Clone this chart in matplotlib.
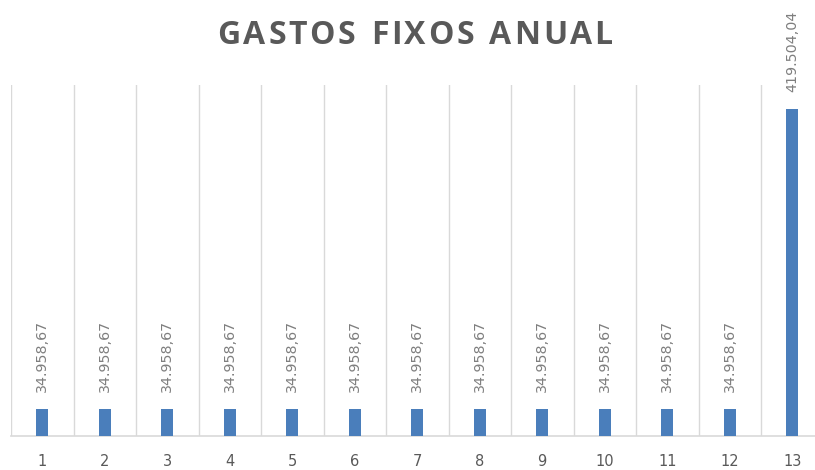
import matplotlib.pyplot as plt

meses = ["1", "2", "3", "4", "5", "6", "7", "8", "9", "10", "11", "12", "13"]
valores = [34958.67] * 12 + [419504.04]
rotulos = ["34.958,67"] * 12 + ["419.504,04"]

fig = plt.figure(figsize=(8.15, 4.7), dpi=100)
ax = fig.add_axes([11 / 815, 34 / 470, 812.5 / 815, 351 / 470])

x = list(range(1, len(meses) + 1))
ax.bar(x, valores, width=0.19, color="#4A7EBB", zorder=3)

for xi, v, r in zip(x, valores, rotulos):
    ax.annotate(r, (xi, v), xytext=(0, 12), textcoords="offset points",
                rotation=90, ha="center", va="bottom", fontsize=10.3,
                color="#7F7F7F", family="DejaVu Sans")

ax.set_xlim(0.5, 13.5)
ax.set_ylim(0, 450000)
ax.set_xticks(x)
ax.set_xticklabels(meses, fontsize=10.5, color="#595959")
ax.set_yticks([])
ax.tick_params(axis="x", length=0, pad=13)

# linhas verticais entre as categorias
for b in [i + 0.5 for i in range(0, 14)]:
    ax.axvline(b, color="#D9D9D9", lw=1, zorder=1)

for s in ["top", "left", "right"]:
    ax.spines[s].set_visible(False)
ax.spines["bottom"].set_color("#D9D9D9")
ax.spines["bottom"].set_linewidth(1.2)

# título letra a letra, para imitar o espaçamento do Excel
titulo = "GASTOS FIXOS ANUAL"
estilo = dict(fontsize=23, fontweight="bold", color="#595959", family="Open Sans",
              va="center", ha="left")
renderer = fig.canvas.get_renderer()
larguras = []
for c in titulo:
    if c == " ":
        larguras.append(None)
        continue
    t = fig.text(0, 0, c, **estilo)
    larguras.append(t.get_window_extent(renderer).width)
    t.remove()
espaco, track = 13, 2.6
passos = [espaco if w is None else w + track for w in larguras]
total = sum(passos) - track
px = 415 - total / 2
for c, p in zip(titulo, passos):
    if c != " ":
        fig.text(px / 815, 1 - 35 / 470, c, **estilo)
    px += p

fig.savefig("out.png", dpi=100)
